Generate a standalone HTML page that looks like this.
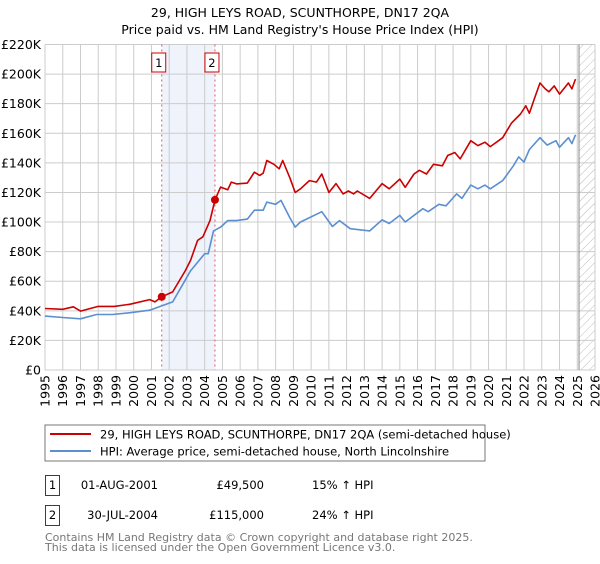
<!DOCTYPE html>
<html><head><meta charset="utf-8"><style>
body{margin:0;background:#fff;font-family:"DejaVu Sans","Liberation Sans",sans-serif;}
svg text{font-family:"DejaVu Sans","Liberation Sans",sans-serif;}
</style></head><body>
<svg id="c" width="600" height="560" viewBox="0 0 600 560" xmlns="http://www.w3.org/2000/svg">
<defs><pattern id="hatch" width="6" height="6" patternUnits="userSpaceOnUse" patternTransform="rotate(45)"><line x1="0" y1="0" x2="0" y2="6" stroke="#bbb" stroke-width="1"/></pattern></defs>
<text x="300" y="17" text-anchor="middle" font-size="12.5" fill="#000">29, HIGH LEYS ROAD, SCUNTHORPE, DN17 2QA</text>
<text x="300" y="34" text-anchor="middle" font-size="12.5" fill="#000">Price paid vs. HM Land Registry's House Price Index (HPI)</text>
<g id="grid"></g><g id="marks"></g><g id="axes"></g>
<rect x="45" y="425" width="440" height="36" fill="#fff" stroke="#777"/>
<line x1="50" y1="434" x2="91" y2="434" stroke="#cc0000" stroke-width="2"/>
<text x="100" y="438.5" font-size="11.5">29, HIGH LEYS ROAD, SCUNTHORPE, DN17 2QA (semi-detached house)</text>
<line x1="50" y1="451" x2="91" y2="451" stroke="#5b8fd0" stroke-width="2"/>
<text x="100" y="455.5" font-size="11.5">HPI: Average price, semi-detached house, North Lincolnshire</text>
<g>
<rect x="45.5" y="475.5" width="14" height="20" fill="#fff" stroke="#cc0000"/>
<text x="52.5" y="489" text-anchor="middle" font-size="11.5">1</text>
<text x="158" y="489" text-anchor="end" font-size="11.5">01-AUG-2001</text>
<text x="264" y="489" text-anchor="end" font-size="11.5">£49,500</text>
<text x="312" y="489" font-size="11.5">15% ↑ HPI</text></g>
<g>
<rect x="45.5" y="505.5" width="14" height="20" fill="#fff" stroke="#cc0000"/>
<text x="52.5" y="519" text-anchor="middle" font-size="11.5">2</text>
<text x="158" y="519" text-anchor="end" font-size="11.5">30-JUL-2004</text>
<text x="264" y="519" text-anchor="end" font-size="11.5">£115,000</text>
<text x="312" y="519" font-size="11.5">24% ↑ HPI</text></g>
<text x="45" y="541" font-size="11" fill="#777">Contains HM Land Registry data © Crown copyright and database right 2025.</text>
<text x="45" y="551" font-size="11" fill="#777">This data is licensed under the Open Government Licence v3.0.</text>
</svg>
<script>
const hpiYears=[1995,1996,1997,1997.9,1998.8,1999.8,2000.9,2001.5,2002.2,2002.9,2003.2,2004,2004.2,2004.5,2004.9,2005.3,2005.8,2006.4,2006.8,2007.3,2007.5,2008,2008.3,2008.8,2009.1,2009.4,2010.6,2011.2,2011.6,2012.2,2013.3,2014,2014.4,2015,2015.3,2016.3,2016.6,2017.2,2017.6,2018.2,2018.5,2019,2019.4,2019.8,2020.1,2020.8,2021.4,2021.7,2022,2022.3,2022.9,2023.3,2023.8,2024,2024.5,2024.7,2024.9];
const hpiValues=[36.4,35.5,34.6,37.5,37.5,38.7,40.4,43,46,60.7,67,78.6,78.6,94,96.6,101,101,102,108,108,113.5,112,114.6,103,96.6,100,107,97,101,95.5,94,101.5,99,104.5,100,109,107,112,111,119,116,125,122.5,125,122.5,128,138,144,140.5,149,157,152,155,150.5,157,153,159];
const ppYears=[1995,1996,1996.6,1997,1998,1998.9,1999.8,2000.9,2001.2,2001.58,2002.2,2002.9,2003.2,2003.6,2003.9,2004.3,2004.58,2004.9,2005.3,2005.5,2005.8,2006.4,2006.8,2007.1,2007.3,2007.5,2007.9,2008.2,2008.4,2008.8,2009.1,2009.4,2009.9,2010.3,2010.6,2011,2011.4,2011.8,2012.1,2012.4,2012.6,2013.3,2014,2014.4,2015,2015.3,2015.8,2016.1,2016.5,2016.9,2017.4,2017.7,2018.1,2018.4,2019,2019.4,2019.8,2020.1,2020.8,2021.3,2021.8,2022.1,2022.3,2022.6,2022.9,2023.2,2023.4,2023.7,2024,2024.5,2024.7,2024.9];
const ppValues=[41.6,41,42.7,39.8,43,43,44.5,47.6,46,49.5,52.8,67,74,87.6,90,101,115,123.6,121.8,127,125.8,126.3,133.7,131.5,133,141.6,139,136,141.6,130,120,122.5,128,127,132.5,120,126,119,121,119,121,116,126,122.5,129,123.5,132.5,135,132.5,139,138,145,147,142.7,155,151.7,154,151,157,167,173,178.6,173.5,184,194,190,188,192,186.5,194,190,196.6];
const saleYears=[2001.58,2004.58];
const saleValues=[49.5,115];
const yTicks=[0,20,40,60,80,100,120,140,160,180,200,220];
const xTicks=[1995,1996,1997,1998,1999,2000,2001,2002,2003,2004,2005,2006,2007,2008,2009,2010,2011,2012,2013,2014,2015,2016,2017,2018,2019,2020,2021,2022,2023,2024,2025,2026];
const L=45,R=595,T=44.5,B=370,X0=1995,X1=2026,YM=220;
const sx=v=>L+(v-X0)/(X1-X0)*(R-L);
const sy=v=>B-v/YM*(B-T);
const NS="http://www.w3.org/2000/svg";
function mk(tag,attrs,parent){const e=document.createElementNS(NS,tag);for(const k in attrs)e.setAttribute(k,attrs[k]);parent.appendChild(e);return e;}
const grid=document.getElementById('grid'),marks=document.getElementById('marks'),axes=document.getElementById('axes');
// shaded band
const band=mk('rect',{x:sx(saleYears[0]),y:T,width:sx(saleYears[1])-sx(saleYears[0]),height:B-T,fill:'#eef3fc'},grid);


const fut=mk('rect',{x:sx(2025.1),y:T,width:R-sx(2025.1),height:B-T,fill:'url(#hatch)'},grid);


yTicks.forEach(v=>{
 const g=mk('line',{x1:L,x2:R,y1:sy(v),y2:sy(v),stroke:'#ccc','stroke-width':1},grid);
 
 
 const t=mk('text',{x:41,y:sy(v)+4.5,'text-anchor':'end','font-size':12.5},axes);
 t.textContent=v===0?'£0':'£'+v+'K';
 
 
});
xTicks.forEach(v=>{
 const g=mk('line',{x1:sx(v),x2:sx(v),y1:T,y2:B,stroke:'#ccc','stroke-width':1},grid);
 
 
 const t=mk('text',{x:0,y:0,'text-anchor':'end','font-size':12.5,transform:`translate(${sx(v)+4.5},375) rotate(-90)`},axes);
 t.textContent=v;
 
 
});
const nowLine=mk('line',{x1:sx(2025.1),x2:sx(2025.1),y1:T,y2:B,stroke:'#888','stroke-width':1},grid);


saleYears.forEach((y,i)=>{
 const d=mk('line',{x1:sx(y),x2:sx(y),y1:T,y2:B,stroke:'#e55','stroke-width':1,'stroke-dasharray':'2,3'},marks);
 
 
 const bx=mk('rect',{x:sx(y)-10,y:53,width:14,height:19,fill:'#fff',stroke:'#cc0000'},marks);
 
 
 const t=mk('text',{x:sx(y)-3,y:67,'text-anchor':'middle','font-size':11.5},marks);
 t.textContent=String(i+1);
 
 
});
function line(xs,ys,color,name){
 const p=mk('polyline',{points:xs.map((x,i)=>sx(x).toFixed(1)+','+sy(ys[i]).toFixed(1)).join(' '),fill:'none',stroke:color,'stroke-width':1.6,'stroke-linejoin':'round'},marks);
 
 
}
line(hpiYears,hpiValues,'#5b8fd0','hpi-line');
line(ppYears,ppValues,'#cc0000','property-price-line');
saleYears.forEach((y,i)=>{
 const c=mk('circle',{cx:sx(y),cy:sy(saleValues[i]),r:4,fill:'#cc0000'},marks);
 
 
});
</script>
</body></html>
